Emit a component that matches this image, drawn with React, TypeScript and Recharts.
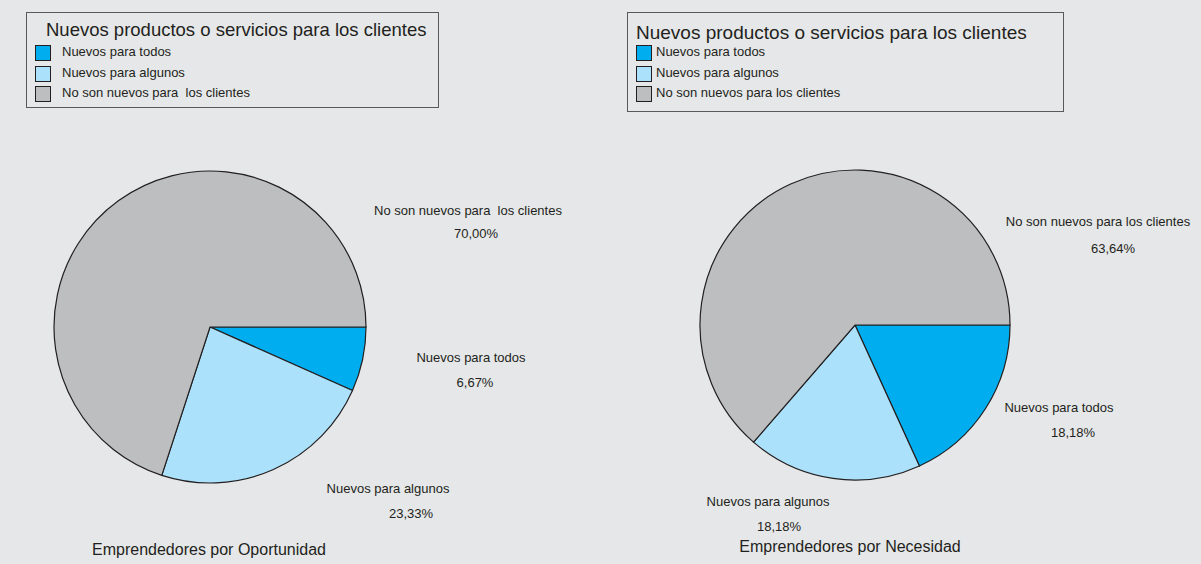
import React from "react";
import { PieChart, Pie, Cell } from "recharts";

const categories = [
  "Nuevos para todos",
  "Nuevos para algunos",
  "No son nuevos para los clientes",
];
const oportunidadLabels = [
  "Nuevos para todos",
  "Nuevos para algunos",
  "No son nuevos para  los clientes",
];
const oportunidadValues = [6.67, 23.33, 70.0];
const necesidadValues = [18.18, 18.18, 63.64];
const colors = ["#00aeef", "#abe1fa", "#bcbec0"];

const legendTitle = "Nuevos productos o servicios para los clientes";
const leftTitle = "Emprendedores por Oportunidad";
const rightTitle = "Emprendedores por Necesidad";

const ink = "#231f20";
const font = "'Liberation Sans', Arial, sans-serif";

const oportunidadData = oportunidadValues.map((v, i) => ({
  name: oportunidadLabels[i],
  value: v,
}));
const necesidadData = necesidadValues.map((v, i) => ({
  name: categories[i],
  value: v,
}));

// label anchors (name line, percent line) for each slice
const leftLabelPos = [
  [471, 357, 475, 382],
  [388, 488, 411, 513],
  [468, 210, 476, 233],
];
const rightLabelPos = [
  [1059, 407, 1073, 432],
  [768, 501, 779, 526],
  [1098, 221, 1113, 248],
];

const fmt = (v: number) => v.toFixed(2).replace(".", ",") + "%";

const makeLabel = (pos: number[][]) => (props: any) => {
  const p = pos[props.index];
  return (
    <g key={"l" + props.index}>
      <text x={p[0]} y={p[1]} textAnchor="middle" dominantBaseline="central"
        fill={ink} fontSize={13} fontFamily={font} style={{ whiteSpace: "pre" }}>
        {props.name}
      </text>
      <text x={p[2]} y={p[3]} textAnchor="middle" dominantBaseline="central"
        fill={ink} fontSize={13} fontFamily={font}>
        {fmt(props.value)}
      </text>
    </g>
  );
};

const LegendBox = ({ left, top, width, height, titleLeft, titleTop, titleSize, itemLeft, textLeft, labels }: any) => (
  <div style={{ position: "absolute", left, top, width, height, border: "1.5px solid #58595b", boxSizing: "border-box", fontFamily: font, color: ink }}>
    <div style={{ position: "absolute", left: titleLeft, top: titleTop, fontSize: titleSize, whiteSpace: "nowrap" }}>{legendTitle}</div>
    {labels.map((l: string, i: number) => (
      <div key={i}>
        <div style={{ position: "absolute", left: itemLeft, top: 32 + i * 20.5, width: 14, height: 14, background: colors[i], border: "1.2px solid " + ink }} />
        <div style={{ position: "absolute", left: textLeft, top: 31 + i * 20.5, fontSize: 13, whiteSpace: "pre" }}>{l}</div>
      </div>
    ))}
  </div>
);

export default function App() {
  return (
    <div style={{ position: "absolute", left: 0, top: 0, width: 1201, height: 564, background: "#e6e7e8", overflow: "hidden" }}>
      <PieChart width={1201} height={564} margin={{ top: 0, right: 0, bottom: 0, left: 0 }}
        style={{ position: "absolute", left: 0, top: 0 }}>
        <Pie data={oportunidadData} dataKey="value" nameKey="name" cx={210} cy={327} outerRadius={156}
          startAngle={0} endAngle={-360} stroke={ink} strokeWidth={1.2}
          label={makeLabel(leftLabelPos)} labelLine={false} isAnimationActive={false}>
          {oportunidadData.map((d, i) => <Cell key={d.name} fill={colors[i]} />)}
        </Pie>
        <Pie data={necesidadData} dataKey="value" nameKey="name" cx={855} cy={325} outerRadius={155}
          startAngle={0} endAngle={-360} stroke={ink} strokeWidth={1.2}
          label={makeLabel(rightLabelPos)} labelLine={false} isAnimationActive={false}>
          {necesidadData.map((d, i) => <Cell key={d.name} fill={colors[i]} />)}
        </Pie>
      </PieChart>
      <LegendBox left={26} top={12} width={413} height={96} titleLeft={19} titleTop={6} titleSize={18.5}
        itemLeft={8} textLeft={35} labels={oportunidadLabels} />
      <LegendBox left={627} top={12} width={437} height={100} titleLeft={8} titleTop={9} titleSize={19}
        itemLeft={8} textLeft={28} labels={categories} />
      <div style={{ position: "absolute", left: 0, width: 418, top: 541, textAlign: "center", fontFamily: font, fontSize: 16, color: ink }}>{leftTitle}</div>
      <div style={{ position: "absolute", left: 650, width: 400, top: 538, textAlign: "center", fontFamily: font, fontSize: 16, color: ink }}>{rightTitle}</div>
    </div>
  );
}
